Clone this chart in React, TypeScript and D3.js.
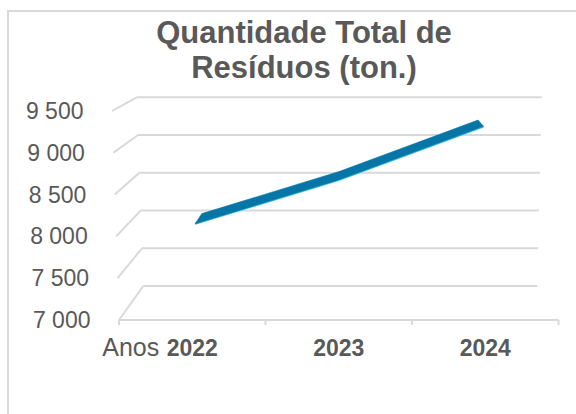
import React, { useEffect, useRef } from "react";
import * as d3 from "d3";

const categories = ["2022", "2023", "2024"];
const values = [8060, 8600, 9260];
const yTicks = [7000, 7500, 8000, 8500, 9000, 9500];
const titleLines = ["Quantidade Total de", "Resíduos (ton.)"];
const axisPrefix = "Anos";

const App = () => {
  const svgRef = useRef<SVGSVGElement | null>(null);

  useEffect(() => {
    if (!svgRef.current) return;
    const svg = d3.select(svgRef.current);
    svg.selectAll("*").remove();

    const width = 576;
    const textColor = "#595959";
    const gridColor = "#d9d9d9";
    const font = "'Liberation Sans', Arial, sans-serif";

    const fmt = d3.formatLocale({
      decimal: ",",
      thousands: " ",
      grouping: [3],
      currency: ["", ""],
    }).format(",");

    const domain = [yTicks[0], yTicks[yTicks.length - 1]];

    // front and back planes of the 3D box
    const yFront = d3.scaleLinear().domain(domain).range([320, 111]);
    const yBack = d3.scaleLinear().domain(domain).range([286, 97.3]);
    const xLeftFront = d3.scaleLinear().domain(domain).range([119, 112]);
    const xRightFront = d3.scaleLinear().domain(domain).range([558.5, 563]);
    const xLeftBack = d3.scaleLinear().domain(domain).range([143.3, 136.7]);
    const xRightBack = d3.scaleLinear().domain(domain).range([537.3, 541.7]);

    const band = d3.scaleBand().domain(categories).range([0, 1]);

    const proj = (u: number, v: number, d: number): [number, number] => {
      const xl = xLeftFront(v) + (xLeftBack(v) - xLeftFront(v)) * d;
      const xr = xRightFront(v) + (xRightBack(v) - xRightFront(v)) * d;
      const y = yFront(v) + (yBack(v) - yFront(v)) * d;
      return [xl + u * (xr - xl), y];
    };

    // chart border
    svg
      .append("path")
      .attr("d", `M8,414 L8,11 L${width},11`)
      .attr("fill", "none")
      .attr("stroke", gridColor)
      .attr("stroke-width", 2);

    // title
    svg
      .append("g")
      .selectAll("text")
      .data(titleLines)
      .enter()
      .append("text")
      .attr("x", 304)
      .attr("y", (_, i) => 43 + i * 35)
      .attr("text-anchor", "middle")
      .style("font-family", font)
      .style("font-size", "31px")
      .style("font-weight", "bold")
      .style("fill", textColor)
      .text((d) => d);

    const grid = svg.append("g").attr("stroke", gridColor).attr("stroke-width", 2).attr("fill", "none");

    // back wall gridlines
    grid
      .selectAll("line.back")
      .data(yTicks)
      .enter()
      .append("line")
      .attr("x1", (v) => proj(0, v, 1)[0])
      .attr("y1", (v) => proj(0, v, 1)[1])
      .attr("x2", (v) => proj(1, v, 1)[0])
      .attr("y2", (v) => proj(1, v, 1)[1]);

    // side wall gridlines
    grid
      .selectAll("line.side")
      .data(yTicks)
      .enter()
      .append("line")
      .attr("x1", (v) => proj(0, v, 1)[0])
      .attr("y1", (v) => proj(0, v, 1)[1])
      .attr("x2", (v) => proj(0, v, 0)[0])
      .attr("y2", (v) => proj(0, v, 0)[1]);

    // floor front edge with ticks
    const base = domain[0];
    grid
      .append("line")
      .attr("x1", proj(0, base, 0)[0])
      .attr("y1", proj(0, base, 0)[1])
      .attr("x2", proj(1, base, 0)[0])
      .attr("y2", proj(1, base, 0)[1]);

    const tickPos = d3.range(categories.length + 1).map((i) => i / categories.length);
    grid
      .selectAll("line.tick")
      .data(tickPos)
      .enter()
      .append("line")
      .attr("x1", (u) => proj(u, base, 0)[0])
      .attr("y1", (u) => proj(u, base, 0)[1])
      .attr("x2", (u) => proj(u, base, 0)[0])
      .attr("y2", (u) => proj(u, base, 0)[1] + 5);

    // y labels
    svg
      .append("g")
      .selectAll("text")
      .data(yTicks)
      .enter()
      .append("text")
      .attr("x", (v) => proj(0, v, 0)[0] - 28.5)
      .attr("y", (v) => proj(0, v, 0)[1] + 8)
      .attr("text-anchor", "end")
      .style("font-family", font)
      .style("font-size", "23px")
      .style("fill", textColor)
      .text((v) => fmt(v));

    // category labels
    const catX = (c: string) => proj(band(c)! + band.bandwidth() / 2, base, 0)[0];
    svg
      .append("g")
      .selectAll("text")
      .data(categories)
      .enter()
      .append("text")
      .attr("x", (c) => catX(c))
      .attr("y", 356)
      .attr("text-anchor", "middle")
      .style("font-family", font)
      .style("font-size", "23px")
      .style("font-weight", "bold")
      .style("fill", textColor)
      .text((c) => c);

    svg
      .append("text")
      .attr("x", catX(categories[0]) - 33)
      .attr("y", 356)
      .attr("text-anchor", "end")
      .style("font-family", font)
      .style("font-size", "25px")
      .style("fill", textColor)
      .text(axisPrefix);

    // 3D ribbon for the series
    const d0 = 0.3;
    const d1 = 0.7;
    const us = categories.map((c) => band(c)! + band.bandwidth() / 2);
    const frontPts = us.map((u, i) => proj(u, values[i], d0));
    const backPts = us.map((u, i) => proj(u, values[i], d1));
    const poly = [...frontPts, ...backPts.slice().reverse()];

    svg
      .append("path")
      .attr("d", d3.line()(frontPts)!)
      .attr("fill", "none")
      .attr("stroke", "#3fc3f0")
      .attr("stroke-width", 2.2);

    svg
      .append("path")
      .attr("d", d3.line()(poly)! + "Z")
      .attr("fill", "#0776a6")
      .attr("stroke", "#0776a6")
      .attr("stroke-width", 0.6);
  }, []);

  return (
    <svg
      ref={svgRef}
      width={576}
      height={414}
      style={{ position: "absolute", left: 0, top: 0, background: "#fff" }}
    />
  );
};

export default App;
